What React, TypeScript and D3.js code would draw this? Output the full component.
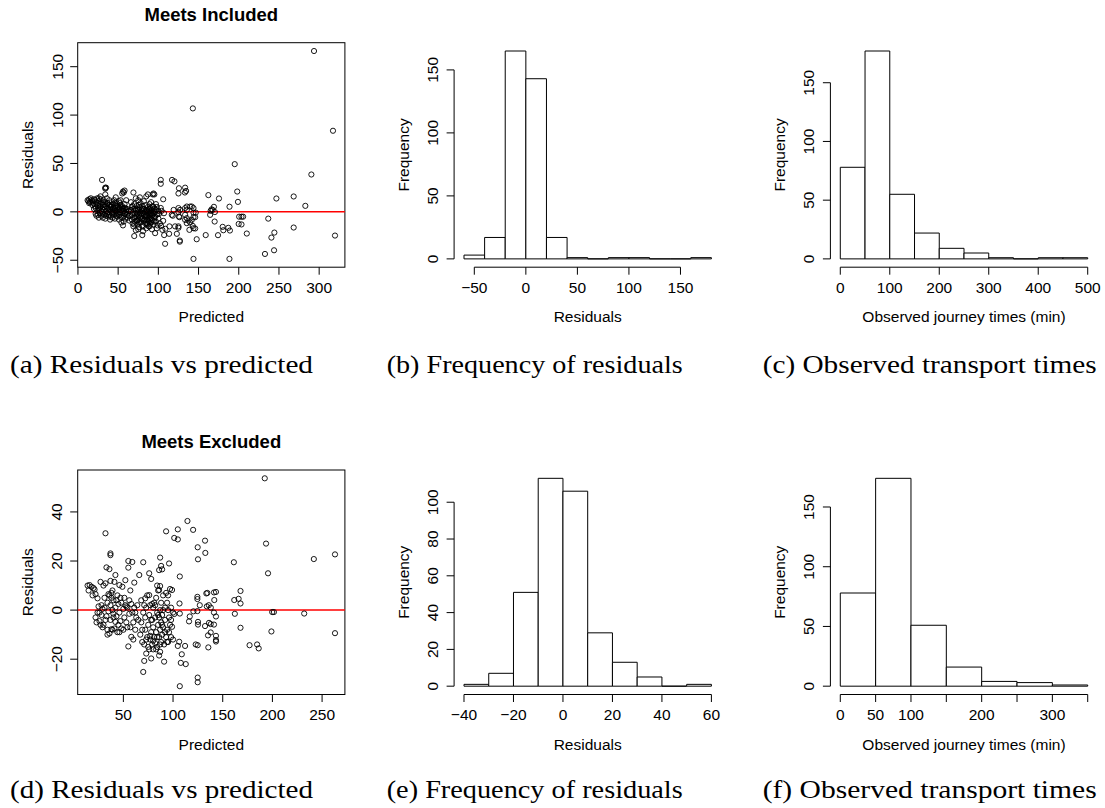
import React from 'react';
import * as d3 from 'd3';

// ---- data ----

// (a) Meets Included: [predicted, residual]
const inclLow: number[][] = [
  [12,12],[13,11],[14,13],[15,10],[17,12],[18,11],[19,9],[20,13],[21,6],[22,-2],[22,4],[23,8],[24,1],[24,14],
  [25,-3],[25,7],[26,11],[27,2],[27,-1],[28,5],[28,13],[29,-4],[29,9],[30,3],[30,0],[31,7],[31,-6],[32,12],
  [32,2],[33,-3],[33,5],[34,10],[34,18],[34,-7],[35,1],[35,6],[35,25],[36,-2],[36,14],[37,4],[37,9],[38,-5],
  [38,0],[39,7],[39,12],[40,2],[40,-8],[41,5],[42,-1],[42,10],[43,3],[43,-6],[44,8],[44,0],[45,-3],[45,12],
  [46,4],[46,-7],[47,1],[47,6],[48,-4],[48,9],[49,2],[50,-2],[50,5],[51,11],[51,-8],[52,0],[52,4],[53,-5],
  [53,7],[54,2],[54,-11],[55,-1],[55,6],[55,19],[56,3],[56,-14],[57,-4],[57,1],[58,8],[58,-2],[59,4],[59,-7],
  [60,0],[60,2],[61,-3],[62,-6],[63,1],[64,-9],[30,33],[34,25],[34,24],[56,21],[57,20],[58,22],[60,12],[53,12],
  [47,15],[26,14],[28,16],[20,3],[23,-4],[26,-6],[31,-2],[36,8],[39,-3],[41,-5],[44,4],[49,-5],[52,9],[57,-10],
  [14,9],[16,14],[18,7],[21,12],[23,10],[25,4],[27,8],[29,1],[31,10],[33,8],[35,-4],[37,-1],[38,3],[40,6],
  [42,7],[43,-2],[45,1],[46,9],[48,-1],[49,6],[51,3],[52,-3],[54,5],[55,-6],[57,4],[59,-1],[61,3],[63,-4],
];
const inclMid: number[][] = [
  [65,-4],[66,2],[67,-8],[67,5],[68,-12],[68,-1],[69,3],[69,-15],[70,-6],[70,8],[70,-25],[71,-2],[71,-10],
  [72,1],[72,-19],[72,14],[73,-5],[73,6],[74,-13],[74,-1],[75,3],[75,-8],[75,12],[76,-3],[76,-16],[77,5],
  [77,-6],[78,0],[78,-11],[78,9],[79,-4],[79,2],[80,-14],[80,6],[80,-7],[81,-1],[81,-20],[82,3],[82,-9],
  [82,11],[83,-5],[83,0],[84,-12],[84,7],[85,-3],[85,-17],[85,16],[86,2],[86,-8],[86,-1],[87,5],[87,-13],
  [87,18],[88,-6],[88,1],[88,-10],[89,8],[89,-3],[89,-15],[90,0],[90,-7],[90,4],[91,-11],[91,10],[92,-4],
  [92,-18],[92,2],[93,6],[93,-9],[94,-1],[94,-13],[95,18],[95,3],[95,-6],[96,-22],[96,0],[97,8],[97,-10],
  [98,-3],[98,5],[99,-14],[100,1],[100,-7],[101,-2],[102,-12],[103,4],[77,15],[80,-24],[66,10],[69,20],
  [93,18],[94,19],[74,-9],[79,-2],[84,-4],[88,3],[91,-6],[76,7],[83,-8],[86,-12],[90,-2],[73,-3],
  [67,-3],[68,6],[70,-13],[71,3],[73,-9],[74,2],[76,-11],[77,-1],[79,-8],[80,3],[81,-15],[82,-2],[84,-8],
  [85,1],[86,-5],[87,-9],[88,-15],[89,2],[90,-12],[91,-1],[92,-8],[93,-3],[94,5],[95,-10],[96,-5],[97,2],
  [98,-17],[99,-2],[71,-6],[75,-18],
];
const inclHigh: number[][] = [
  [103,33],[103,29],[117,33],[120,31.5],[125,19],[125.6,24.4],[133.3,25],[134.5,21.6],[133,20],[106,13],
  [104,1],[107,-1.4],[106,-9.3],[103.4,-14.5],[105,-18.6],[108.8,-17.5],[107.2,-24],[108.4,-33],[113.8,-15],
  [113.4,-22.7],[120.8,-15],[123,-22.7],[125,-15],[125,-16.5],[126.7,-29.6],[126.7,-30.8],[126.2,-5.5],
  [125.6,-4.8],[116.7,-3.1],[118,-4],[119,2],[125,3.9],[127,2],[125,-0.3],[133.3,3.9],[135.4,2],[135.4,5.5],
  [139.5,5.5],[141.6,5.5],[143.7,3.9],[133.3,-3.1],[135.4,-6.5],[137.4,-9],[139.5,-11],[141.6,-8.3],
  [143.7,-5.5],[145.8,-5.5],[133.3,-8.3],[135.4,-11.7],[138.6,-18.6],[142.8,-14.5],[143.7,-16.9],
  [145.8,-17.2],[147.7,-28.3],[143.7,-0.8],[146.5,-0.8],[158.9,-24],[162.2,17.3],[165,1],[166.2,2.6],
  [167.5,2],[169.1,5.2],[170.3,-0.2],[164.4,-3.1],[175.4,13.8],[174.2,-24.1],[170,-10],[180,-15.5],
  [180.8,-19],[187,-16.5],[189,-19.3],[188.5,5.3],[198.1,21],[199,10.3],[200.5,-5],[203.4,-5],[205.4,-5],
  [199.9,-12.5],[203.4,-13],[210,-22.4],[236.7,-7],[232.6,-43.5],[143.7,-48.6],[188.4,-48.6],
  [293.6,166.2],[142.9,106.9],[317.2,83.8],[195,49.3],[290.3,38.6],[246.8,13.8],[268.3,15.9],[282.8,6.2],
  [319.7,-24.5],[268.3,-16.2],[244.3,-21.4],[240.6,-26.6],[243.9,-39.7],
];

// (d) Meets Excluded: [predicted, residual]
const exclLow: number[][] = [
  [14,10],[15,8],[16,10.2],[18,9.5],[20,9],[21,8.4],[22,6.5],[22,-3],[23,-5],[24,4.8],[25,1.5],[26,-1],
  [26,-4.5],[27,11.5],[28,2],[28,-2],[29,0.5],[30,-6],[31,1],[31,5],[32,10.9],[32,31.3],[33,-2.5],[33,17.4],
  [34,-8],[34,3],[35,6.5],[35,-0.5],[36,16.7],[36,-9.5],[37,23.1],[37,22.4],[37,11.9],[37,2],[37,-4],[38,7],
  [38,-7.8],[39,0],[40,-3],[40,4],[41,11.5],[41,-7.5],[42,14.3],[42,1],[43,-2.5],[44,-9],[45,2.5],[46,10.2],
  [46,-1],[47,-4.5],[48,3],[48,-7.5],[49,9.5],[50,0.5],[51,-3],[52,12.2],[52,2],[53,-5],[54,1],[55,-14.8],
  [55,20],[55,17.3],[56,4],[56,-1.5],[57,-7],[58,-10.9],[58,2.5],[59,19.6],[59,-1],[60,-12],[60,-5],[61,11.2],
  [61,1],[62,-8],[63,-3],[64,2],[65,-4],[38,5],[39,8],[36,6],[40,-1.5],[45,-6],[50,-8],[53,1.5],[47,5],
  [44,6],[42,-4.8],[30,10],[29,-7],[19,6],[24,-1],[27,-6],[32,-4],[34,-10],[39,-8],[43,4],[46,-9],[51,5],
  [54,-7],[57,8],[62,-1],
];
const exclMid: number[][] = [
  [66,14.3],[67,-10],[68,-5],[68,4],[69,-13],[70,19.5],[70,-1],[70,-25.2],[71,-20.7],[71,-14],[72,4.8],
  [72,-8],[72,-3],[73,1],[73,-17.7],[74,-11],[74,6],[75,-15],[75,-6],[76,15],[76,6.1],[76,-2],[77,-12],
  [77,2],[78,12.7],[78,-9],[78,-19.7],[79,-4],[79,-14],[80,1],[80,-7],[81,-11],[81,3],[82,-3],[82,-13.5],
  [83,-9],[83,5],[84,-1],[84,-15],[85,-6],[85,8],[86,16.3],[86,8.2],[86,-3],[86,-11],[87,21.4],[87,9.8],
  [87,0],[87,-17],[87,-8],[88,3],[88,-13],[88,-5],[89,16.6],[89,-2],[89,-10],[90,6],[90,-7],[91,-21],
  [91,-14],[92,1],[92,-4],[93,32.1],[93,7],[93,-11],[94,3],[94,-8],[95,0],[95,-13],[96,19],[96,-3],
  [97,8.6],[97,-6],[98,1],[98,-11],[99,-6.8],[99,8.2],[100,-1],[86,-18.5],[88,18],[84,10],[80,-12.5],
  [77,-10.5],[83,-16],[79,2.5],[69,-8],[71,2],[73,-12],[76,-16],[78,-4],[80,-16],[82,2],[84,-11],[85,-2],
  [87,-14],[89,-6],[90,0],[92,-9],[94,-13],[96,-9],[98,-4],[100,-12],[95,6],
];
const exclHigh: number[][] = [
  [101.2,29.4],[104.8,28.8],[104.8,32.9],[114.5,36.3],[120.2,32.7],[132.2,28.3],[132.5,23.3],[124.8,25.6],
  [125.1,20.7],[106.8,13.7],[101.2,-1.6],[106.5,2.7],[106.8,-1.4],[104.8,-14.6],[106.2,-12.9],[112.1,-14.6],
  [122.8,-14],[124.8,-14.3],[135.5,-15.2],[107.8,-21.5],[112.8,-22],[108.8,-18],[124.8,-27.5],[124.8,-29.4],
  [106.8,-31],[141.2,7.2],[143.2,7.4],[133.5,6.8],[134.5,7],[124.5,5.4],[124.5,4.5],[141.5,4.1],[126.9,2],
  [136,2],[134,1.5],[138,1],[124.5,-0.4],[141.2,-1],[143.2,-2.6],[120.5,-0.5],[116.8,-2.6],[116.1,-4.6],
  [125.1,-4.8],[125.1,-5.9],[136.2,-5.2],[137.9,-5.7],[141.2,-5.9],[132.2,-6.5],[137.9,-9.1],[135.2,-10.3],
  [143.2,-10.5],[143.2,-12.2],[143.2,-12.8],[192.3,53.7],[193.6,27.1],[195.6,15],[161.2,19.5],[241.7,20.8],
  [263,22.7],[263,-9.4],[232,-1.4],[199.8,-0.8],[201.5,-0.8],[199,-8.7],[177,-14.3],[184.6,-14],
  [186.2,-15.6],[167.9,7.8],[166,4.6],[161.6,4.1],[167.9,2.7],[162.2,-1.5],[167.9,-7.2],
];

// histograms
const resInclBreaks = [-60, -40, -20, 0, 20, 40, 60, 80, 100, 120, 140, 160, 180];
const resInclCounts = [3, 17, 165, 143, 17, 1, 0, 1, 1, 0, 0, 1];
const timeInclBreaks = [0, 50, 100, 150, 200, 250, 300, 350, 400, 450, 500];
const timeInclCounts = [78, 177, 55, 22, 9, 5, 1, 0, 1, 1];
const resExclBreaks = [-40, -30, -20, -10, 0, 10, 20, 30, 40, 50, 60];
const resExclCounts = [1, 7, 51, 113, 106, 29, 13, 5, 0, 1];
const timeExclBreaks = [0, 50, 100, 150, 200, 250, 300, 350];
const timeExclCounts = [78, 174, 51, 16, 4, 3, 1];

// tick values
const aXTicks = [0, 50, 100, 150, 200, 250, 300];
const aYTicks = [-50, 0, 50, 100, 150];
const bXTicks = [-50, 0, 50, 100, 150];
const bYTicks = [0, 50, 100, 150];
const cXTicks = [0, 100, 200, 300, 400, 500];
const cYTicks = [0, 50, 100, 150];
const dXTicks = [50, 100, 150, 200, 250];
const dYTicks = [-20, 0, 20, 40];
const eXTicks = [-40, -20, 0, 20, 40, 60];
const eYTicks = [0, 20, 40, 60, 80, 100];
const fXTicks = [0, 50, 100, 150, 200, 250, 300, 350];
const fXTickLabels = ['0', '50', '100', '', '200', '', '300', ''];
const fYTicks = [0, 50, 100, 150];

const captions = [
  '(a) Residuals vs predicted', '(b) Frequency of residuals', '(c) Observed transport times',
  '(d) Residuals vs predicted', '(e) Frequency of residuals', '(f) Observed transport times',
];

// ---- layout ----
const SANS = "'Liberation Sans', Arial, Helvetica, sans-serif";
const SERIF = "'Liberation Serif', 'Times New Roman', serif";
const colX = [77.7, 454.1, 830.4];
const rowY = [42.7, 470];
const PW = 267.2;
const PH = 224.5;
const TICK = 7.5;
const FS = 15.5;

const fmt = (v: number) => (v < 0 ? '\u2212' + Math.abs(v) : String(v));

function padded(lo: number, hi: number) {
  const p = (hi - lo) * 0.04;
  return [lo - p, hi + p];
}

function YAxisText({ x, y, children, size = FS }: any) {
  return (
    <text transform={`translate(${x},${y}) rotate(-90)`} textAnchor="middle" fontSize={size} fontFamily={SANS}>
      {children}
    </text>
  );
}

function Scatter({ points, left, top, xTicks, yTicks, title, yOff }: any) {
  const xs = points.map((p: number[]) => p[0]);
  const ys = points.map((p: number[]) => p[1]);
  const [x0, x1] = d3.extent(xs) as number[];
  const [y0, y1] = d3.extent(ys) as number[];
  const x = d3.scaleLinear().domain(padded(x0, x1)).range([left, left + PW]);
  const y = d3.scaleLinear().domain(padded(y0, y1)).range([top + PH, top]);
  const bottom = top + PH;
  return (
    <g>
      <text x={left + PW / 2} y={top - 22} textAnchor="middle" fontSize={18.5} fontWeight="bold" fontFamily={SANS}>
        {title}
      </text>
      <rect x={left} y={top} width={PW} height={PH} fill="none" stroke="#000" strokeWidth={1} />
      <line x1={left} x2={left + PW} y1={y(0)} y2={y(0)} stroke="#ff0000" strokeWidth={1.5} />
      {points.map((p: number[], i: number) => (
        <circle key={i} cx={x(p[0])} cy={y(p[1])} r={2.6} fill="none" stroke="#000" strokeWidth={0.9} />
      ))}
      {xTicks.map((t: number) => (
        <g key={'x' + t}>
          <line x1={x(t)} x2={x(t)} y1={bottom} y2={bottom + TICK} stroke="#000" />
          <text x={x(t)} y={bottom + 25.3} textAnchor="middle" fontSize={FS} fontFamily={SANS}>{fmt(t)}</text>
        </g>
      ))}
      {yTicks.map((t: number) => (
        <g key={'y' + t}>
          <line x1={left - TICK} x2={left} y1={y(t)} y2={y(t)} stroke="#000" />
          <YAxisText x={left - yOff} y={y(t)}>{fmt(t)}</YAxisText>
        </g>
      ))}
      <text x={left + PW / 2} y={bottom + 55} textAnchor="middle" fontSize={FS} fontFamily={SANS}>Predicted</text>
      <YAxisText x={left - 45} y={top + PH / 2}>Residuals</YAxisText>
    </g>
  );
}

function Hist({ breaks, counts, left, top, xTicks, xLabels, yTicks, xLabel }: any) {
  const x = d3.scaleLinear().domain(padded(breaks[0], breaks[breaks.length - 1])).range([left, left + PW]);
  const y = d3.scaleLinear().domain(padded(0, d3.max(counts) as number)).range([top + PH, top]);
  const bottom = top + PH;
  const labels = xLabels || xTicks.map(fmt);
  return (
    <g>
      {counts.map((c: number, i: number) => (
        <path
          key={i}
          d={`M${x(breaks[i])},${y(0)}V${y(c)}H${x(breaks[i + 1])}V${y(0)}Z`}
          fill="#fff"
          stroke="#000"
          strokeWidth={1}
        />
      ))}
      <line x1={x(xTicks[0])} x2={x(xTicks[xTicks.length - 1])} y1={bottom} y2={bottom} stroke="#000" />
      {xTicks.map((t: number, i: number) => (
        <g key={'x' + t}>
          <line x1={x(t)} x2={x(t)} y1={bottom} y2={bottom + TICK} stroke="#000" />
          <text x={x(t)} y={bottom + 25.3} textAnchor="middle" fontSize={FS} fontFamily={SANS}>{labels[i]}</text>
        </g>
      ))}
      <line x1={left} x2={left} y1={y(yTicks[0])} y2={y(yTicks[yTicks.length - 1])} stroke="#000" />
      {yTicks.map((t: number) => (
        <g key={'y' + t}>
          <line x1={left - TICK} x2={left} y1={y(t)} y2={y(t)} stroke="#000" />
          <YAxisText x={left - 16.5} y={y(t)}>{fmt(t)}</YAxisText>
        </g>
      ))}
      <text x={left + PW / 2} y={bottom + 55} textAnchor="middle" fontSize={FS} fontFamily={SANS}>{xLabel}</text>
      <YAxisText x={left - 45.5} y={top + PH / 2}>Frequency</YAxisText>
    </g>
  );
}

export default function App() {
  const inclPoints = [...inclLow, ...inclMid, ...inclHigh];
  const exclPoints = [...exclLow, ...exclMid, ...exclHigh];
  const capX = [10, 386.7, 762.7];
  const capW = [303, 296, 334];
  const capY = [373, 798];
  return (
    <svg width={1105} height={808} style={{ position: 'absolute', left: 0, top: 0, background: '#fff' }}>
      <rect width={1105} height={808} fill="#fff" />
      <Scatter points={inclPoints} left={colX[0]} top={rowY[0]} xTicks={aXTicks} yTicks={aYTicks}
        title="Meets Included" yOff={14.5} />
      <Hist breaks={resInclBreaks} counts={resInclCounts} left={colX[1]} top={rowY[0]}
        xTicks={bXTicks} yTicks={bYTicks} xLabel="Residuals" />
      <Hist breaks={timeInclBreaks} counts={timeInclCounts} left={colX[2]} top={rowY[0]}
        xTicks={cXTicks} yTicks={cYTicks} xLabel="Observed journey times (min)" />
      <Scatter points={exclPoints} left={colX[0]} top={rowY[1]} xTicks={dXTicks} yTicks={dYTicks}
        title="Meets Excluded" yOff={16} />
      <Hist breaks={resExclBreaks} counts={resExclCounts} left={colX[1]} top={rowY[1]}
        xTicks={eXTicks} yTicks={eYTicks} xLabel="Residuals" />
      <Hist breaks={timeExclBreaks} counts={timeExclCounts} left={colX[2]} top={rowY[1]}
        xTicks={fXTicks} xLabels={fXTickLabels} yTicks={fYTicks} xLabel="Observed journey times (min)" />
      {captions.map((c, i) => (
        <text key={c + i} x={capX[i % 3]} y={capY[Math.floor(i / 3)]} fontSize={26} fontFamily={SERIF}
          textLength={capW[i % 3]} lengthAdjust="spacingAndGlyphs">
          {c}
        </text>
      ))}
    </svg>
  );
}
